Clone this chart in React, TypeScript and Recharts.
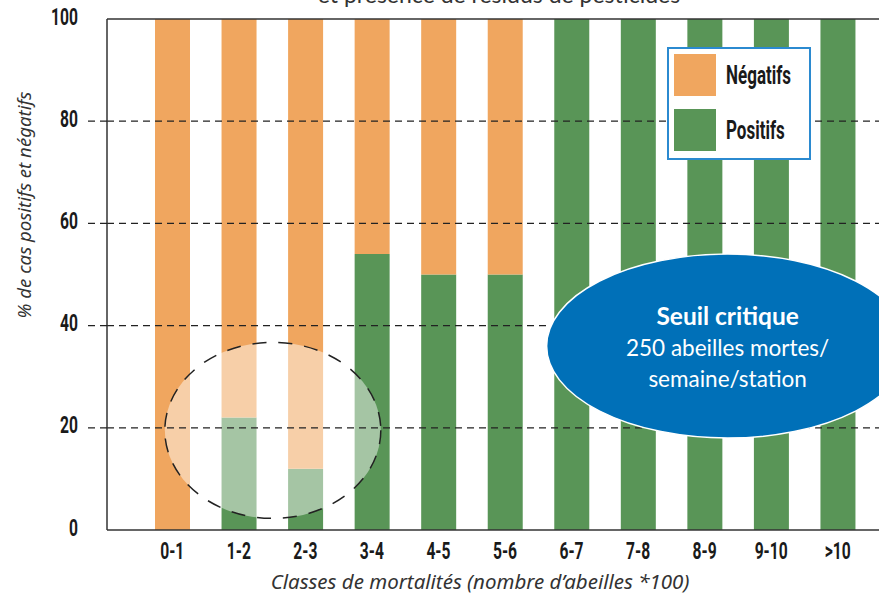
import {
  BarChart,
  Bar,
  XAxis,
  YAxis,
  ReferenceLine,
  ReferenceDot,
  Legend,
} from 'recharts';

// classes de mortalité (x 100 abeilles)
const classes = ['0-1', '1-2', '2-3', '3-4', '4-5', '5-6', '6-7', '7-8', '8-9', '9-10', '>10'];
// % de cas positifs (résidus de pesticides détectés)
const positifs = [0, 22, 12, 54, 50, 50, 100, 100, 100, 100, 100];
// % de cas négatifs
const negatifs = [100, 78, 88, 46, 50, 50, 0, 0, 0, 0, 0];
const yTicks = [0, 20, 40, 60, 80, 100];
const gridValues = [20, 40, 60, 80];

const data = classes.map((c, i) => ({ classe: c, positifs: positifs[i], negatifs: negatifs[i] }));

const ORANGE = '#F0A65F';
const GREEN = '#599557';
const BLUE = '#0070B8';
const HEAVY = 'Roboto, "DejaVu Sans", sans-serif';
const SOFT = 'Lato, "Noto Sans", sans-serif';

// texte gras et étroit (façon Impact)
const Narrow = ({ x, y, anchor, children, size = 23 }: any) => (
  <text
    transform={`translate(${x}, ${y}) scale(0.68, 1)`}
    textAnchor={anchor}
    dominantBaseline="central"
    fontFamily={HEAVY}
    fontWeight="bold"
    fontSize={size}
    fill="#1a1a1a"
  >
    {children}
  </text>
);

const YTick = (props: any) => {
  const { x, y, payload } = props;
  const v = payload.value;
  return (
    <g>
      <Narrow x={x} y={y - 2} anchor="end">
        {v}
      </Narrow>
      {v > 0 && v < 100 && (
        <line x1={x + 10} x2={x + 29} y1={y} y2={y} stroke="#222" strokeWidth={1.3} strokeDasharray="7 5" />
      )}
    </g>
  );
};

const XTick = (props: any) => {
  const { x, y, payload } = props;
  return (
    <Narrow x={x} y={y + 19} anchor="middle">
      {payload.value}
    </Narrow>
  );
};

const LegendBox = () => {
  const items = [
    { label: 'Négatifs', color: ORANGE },
    { label: 'Positifs', color: GREEN },
  ];
  return (
    <div
      style={{
        width: 144,
        height: 113,
        boxSizing: 'border-box',
        border: '2px solid #2B8AD0',
        background: '#fff',
        position: 'relative',
      }}
    >
      {items.map((it, i) => (
        <div key={it.label} style={{ position: 'absolute', left: 5, top: 5 + i * 55, display: 'flex', alignItems: 'center' }}>
          <div style={{ width: 42, height: 42, background: it.color }} />
          <span
            style={{
              marginLeft: 10,
              fontFamily: HEAVY,
              fontWeight: 'bold',
              fontSize: 25,
              color: '#1a1a1a',
              display: 'inline-block',
              transform: 'scaleX(0.68)',
              transformOrigin: 'left center',
            }}
          >
            {it.label}
          </span>
        </div>
      ))}
    </div>
  );
};

const Zone = (props: any) => {
  const { cx, cy } = props;
  return (
    <ellipse
      cx={cx + 34}
      cy={cy}
      rx={108}
      ry={88}
      fill="#fff"
      fillOpacity={0.46}
      stroke="#222"
      strokeWidth={1.5}
      strokeDasharray="14 12"
    />
  );
};

const Seuil = (props: any) => {
  const { cx, cy } = props;
  const ex = cx + 23;
  return (
    <g>
      <ellipse cx={ex} cy={cy} rx={181} ry={92} fill={BLUE} stroke="#fff" strokeWidth={1.5} />
      <text x={ex} y={cy - 31} textAnchor="middle" dominantBaseline="central" fill="#fff" fontFamily={SOFT} fontWeight="bold" fontSize={24.5}>
        Seuil critique
      </text>
      <text x={ex} y={cy + 1} textAnchor="middle" dominantBaseline="central" fill="#fff" fontFamily={SOFT} fontSize={22.5}>
        250 abeilles mortes/
      </text>
      <text x={ex} y={cy + 32} textAnchor="middle" dominantBaseline="central" fill="#fff" fontFamily={SOFT} fontSize={22.5}>
        semaine/station
      </text>
    </g>
  );
};

export default function App() {
  return (
    <div style={{ position: 'absolute', left: 0, top: 0, width: 879, height: 594, overflow: 'hidden', background: '#fff' }}>
      <svg width={879} height={20} style={{ position: 'absolute', left: 0, top: 0 }}>
        <text x={499} y={3} textAnchor="middle" fontFamily={SOFT} fontSize={23} fill="#333">
          et présence de résidus de pesticides
        </text>
      </svg>
      <BarChart
        width={890}
        height={594}
        data={data}
        margin={{ top: 19, right: 5, bottom: 0, left: 0 }}
        barSize={35}
      >
        <XAxis
          dataKey="classe"
          height={64}
          padding={{ left: 32, right: 14 }}
          axisLine={{ stroke: '#333', strokeWidth: 1.5 }}
          tickLine={false}
          tickSize={0}
          interval={0}
          tick={<XTick />}
          label={{
            content: () => (
              <text x={480} y={581} textAnchor="middle" dominantBaseline="central" fontFamily="'Noto Sans', sans-serif" fontStyle="italic" fontSize={20.5} fill="#333">
                Classes de mortalités (nombre d’abeilles *100)
              </text>
            ),
          }}
        />
        <YAxis
          width={107}
          domain={[0, 100]}
          ticks={yTicks}
          interval={0}
          axisLine={{ stroke: '#333', strokeWidth: 1.5 }}
          tickLine={false}
          tickSize={0}
          tickMargin={29}
          tick={<YTick />}
          label={{
            content: () => (
              <text
                x={0}
                y={0}
                transform="translate(23, 205) rotate(-90)"
                textAnchor="middle"
                dominantBaseline="central"
                fontFamily="'Noto Sans', sans-serif"
                fontStyle="italic"
                fontSize={18.6}
                fill="#333"
              >
                % de cas positifs et négatifs
              </text>
            ),
          }}
        />
        <Legend
          layout="vertical"
          align="center"
          verticalAlign="middle"
          content={<LegendBox />}
          wrapperStyle={{ position: 'absolute', left: 667, top: 47, width: 144, height: 113 }}
        />
        <Bar dataKey="positifs" name="Positifs" stackId="a" fill={GREEN} isAnimationActive={false} />
        <Bar dataKey="negatifs" name="Négatifs" stackId="a" fill={ORANGE} isAnimationActive={false} />
        <ReferenceDot x="1-2" y={19.5} r={1} shape={<Zone />} ifOverflow="visible" zIndex={350} />
        <ReferenceLine y={100} stroke="#333" strokeWidth={1.5} zIndex={400} />
        {gridValues.map((v) => (
          <ReferenceLine key={v} y={v} stroke="#222" strokeWidth={1.3} strokeDasharray="7 5" zIndex={400} />
        ))}
        <ReferenceDot x="8-9" y={36} r={1} shape={<Seuil />} ifOverflow="visible" zIndex={700} />
      </BarChart>
    </div>
  );
}
